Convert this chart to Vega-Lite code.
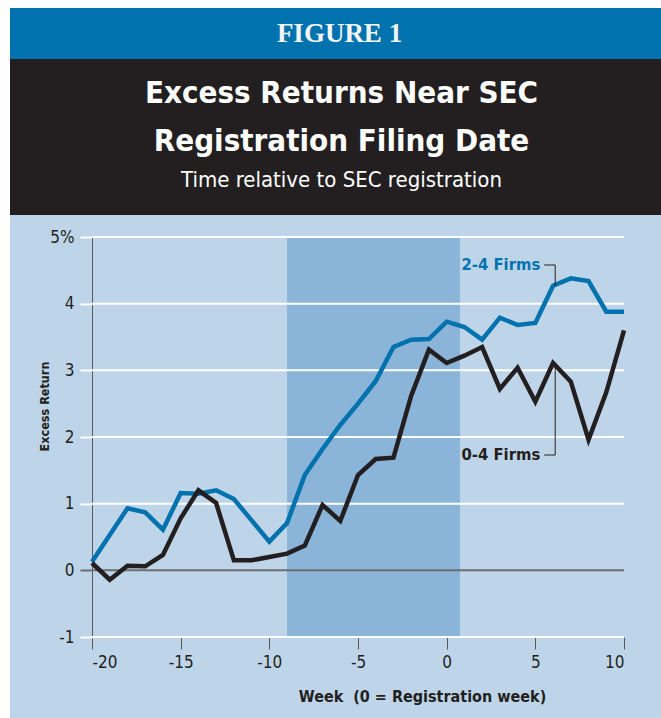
{
  "$schema": "https://vega.github.io/schema/vega-lite/v6.json",
  "background": "#bed5e9",
  "padding": 0,
  "spacing": 0,
  "config": {
    "view": {"stroke": null},
    "font": "'DejaVu Sans Condensed', sans-serif",
    "concat": {"spacing": 0}
  },
  "datasets": {
    "lines": [
      {"week": -20, "value": 0.13, "group": "2-4 Firms"},
      {"week": -19, "value": 0.53, "group": "2-4 Firms"},
      {"week": -18, "value": 0.93, "group": "2-4 Firms"},
      {"week": -17, "value": 0.87, "group": "2-4 Firms"},
      {"week": -16, "value": 0.61, "group": "2-4 Firms"},
      {"week": -15, "value": 1.16, "group": "2-4 Firms"},
      {"week": -14, "value": 1.15, "group": "2-4 Firms"},
      {"week": -13, "value": 1.2, "group": "2-4 Firms"},
      {"week": -12, "value": 1.07, "group": "2-4 Firms"},
      {"week": -11, "value": 0.75, "group": "2-4 Firms"},
      {"week": -10, "value": 0.43, "group": "2-4 Firms"},
      {"week": -9, "value": 0.71, "group": "2-4 Firms"},
      {"week": -8, "value": 1.43, "group": "2-4 Firms"},
      {"week": -7, "value": 1.82, "group": "2-4 Firms"},
      {"week": -6, "value": 2.18, "group": "2-4 Firms"},
      {"week": -5, "value": 2.5, "group": "2-4 Firms"},
      {"week": -4, "value": 2.84, "group": "2-4 Firms"},
      {"week": -3, "value": 3.35, "group": "2-4 Firms"},
      {"week": -2, "value": 3.46, "group": "2-4 Firms"},
      {"week": -1, "value": 3.47, "group": "2-4 Firms"},
      {"week": 0, "value": 3.73, "group": "2-4 Firms"},
      {"week": 1, "value": 3.65, "group": "2-4 Firms"},
      {"week": 2, "value": 3.46, "group": "2-4 Firms"},
      {"week": 3, "value": 3.79, "group": "2-4 Firms"},
      {"week": 4, "value": 3.68, "group": "2-4 Firms"},
      {"week": 5, "value": 3.71, "group": "2-4 Firms"},
      {"week": 6, "value": 4.27, "group": "2-4 Firms"},
      {"week": 7, "value": 4.38, "group": "2-4 Firms"},
      {"week": 8, "value": 4.34, "group": "2-4 Firms"},
      {"week": 9, "value": 3.88, "group": "2-4 Firms"},
      {"week": 10, "value": 3.88, "group": "2-4 Firms"},
      {"week": -20, "value": 0.11, "group": "0-4 Firms"},
      {"week": -19, "value": -0.14, "group": "0-4 Firms"},
      {"week": -18, "value": 0.07, "group": "0-4 Firms"},
      {"week": -17, "value": 0.06, "group": "0-4 Firms"},
      {"week": -16, "value": 0.23, "group": "0-4 Firms"},
      {"week": -15, "value": 0.78, "group": "0-4 Firms"},
      {"week": -14, "value": 1.2, "group": "0-4 Firms"},
      {"week": -13, "value": 1.01, "group": "0-4 Firms"},
      {"week": -12, "value": 0.15, "group": "0-4 Firms"},
      {"week": -11, "value": 0.15, "group": "0-4 Firms"},
      {"week": -10, "value": 0.2, "group": "0-4 Firms"},
      {"week": -9, "value": 0.25, "group": "0-4 Firms"},
      {"week": -8, "value": 0.37, "group": "0-4 Firms"},
      {"week": -7, "value": 0.98, "group": "0-4 Firms"},
      {"week": -6, "value": 0.74, "group": "0-4 Firms"},
      {"week": -5, "value": 1.43, "group": "0-4 Firms"},
      {"week": -4, "value": 1.67, "group": "0-4 Firms"},
      {"week": -3, "value": 1.69, "group": "0-4 Firms"},
      {"week": -2, "value": 2.62, "group": "0-4 Firms"},
      {"week": -1, "value": 3.31, "group": "0-4 Firms"},
      {"week": 0, "value": 3.11, "group": "0-4 Firms"},
      {"week": 1, "value": 3.22, "group": "0-4 Firms"},
      {"week": 2, "value": 3.35, "group": "0-4 Firms"},
      {"week": 3, "value": 2.72, "group": "0-4 Firms"},
      {"week": 4, "value": 3.04, "group": "0-4 Firms"},
      {"week": 5, "value": 2.53, "group": "0-4 Firms"},
      {"week": 6, "value": 3.11, "group": "0-4 Firms"},
      {"week": 7, "value": 2.83, "group": "0-4 Firms"},
      {"week": 8, "value": 1.96, "group": "0-4 Firms"},
      {"week": 9, "value": 2.67, "group": "0-4 Firms"},
      {"week": 10, "value": 3.6, "group": "0-4 Firms"}
    ],
    "shade": [{"week": -9, "week2": 0.75, "value": -1, "value2": 5}],
    "grid": [{"value": -1}, {"value": 1}, {"value": 2}, {"value": 3}, {"value": 4}, {"value": 5}, {"value": 0}],
    "leaders": [
      {"week": 5.5, "week2": 6.12, "value": 4.58, "value2": 4.58},
      {"week": 6.12, "week2": 6.12, "value": 4.58, "value2": 4.27},
      {"week": 5.5, "week2": 6.12, "value": 1.73, "value2": 1.73},
      {"week": 6.12, "week2": 6.12, "value": 1.73, "value2": 3.11}
    ],
    "labels": [
      {"week": 5.28, "value": 4.58, "group": "2-4 Firms"},
      {"week": 5.28, "value": 1.73, "group": "0-4 Firms"}
    ],
    "header": [{"t": "FIGURE 1"}],
    "titles": [
      {"row": 1, "t": "Excess Returns Near SEC"},
      {"row": 2, "t": "Registration Filing Date"}
    ],
    "subtitle": [{"row": 2.75, "t": "Time relative to SEC registration"}],
    "blank": [{"k": 1}]
  },
  "hconcat": [
    {
      "width": 10,
      "height": 718,
      "view": {"fill": "white", "stroke": null},
      "data": {"name": "blank"},
      "mark": {"type": "point", "opacity": 0}
    },
    {
      "spacing": 13,
      "vconcat": [
        {
          "spacing": 0,
          "vconcat": [
            {
              "width": 651,
              "height": 8,
              "view": {"fill": "white", "stroke": null},
              "data": {"name": "blank"},
              "mark": {"type": "point", "opacity": 0, "size": 4}
            },
            {
              "width": 651,
              "height": 51,
              "view": {"fill": "#0072ae", "stroke": null},
              "data": {"name": "header"},
              "mark": {"type": "text", "font": "Liberation Serif", "fontSize": 27, "fontWeight": "bold", "color": "#f4f4f4", "dx": 4, "dy": 0},
              "encoding": {"text": {"field": "t"}}
            },
            {
              "width": 651,
              "height": 156,
              "view": {"fill": "#231f20", "stroke": null},
              "layer": [
                {
                  "data": {"name": "titles"},
                  "mark": {"type": "text", "fontWeight": "bold", "fontSize": 31, "color": "white", "baseline": "alphabetic", "dx": 6},
                  "encoding": {
                    "y": {"field": "row", "type": "quantitative", "scale": {"domain": [0.09, 3.34], "reverse": true, "nice": false, "zero": false}, "axis": null},
                    "text": {"field": "t"}
                  }
                },
                {
                  "data": {"name": "subtitle"},
                  "mark": {"type": "text", "fontSize": 22, "color": "white", "baseline": "alphabetic", "dx": 6},
                  "encoding": {
                    "y": {"field": "row", "type": "quantitative", "axis": null},
                    "text": {"field": "t"}
                  }
                }
              ]
            }
          ]
        },
        {
          "spacing": 0,
          "hconcat": [
            {
              "width": 28,
              "height": 10,
              "data": {"name": "blank"},
              "mark": {"type": "point", "opacity": 0, "size": 4}
            },
            {
              "width": 532,
              "height": 400,
              "layer": [
                {
                  "data": {"name": "shade"},
                  "mark": {"type": "rect", "color": "#8ab4d8"},
                  "encoding": {
                    "x": {
                      "field": "week",
                      "type": "quantitative",
                      "scale": {"domain": [-20, 10], "nice": false, "zero": false},
                      "axis": {
                        "values": [-20, -15, -10, -5, 0, 5, 10],
                        "labelExpr": "'' + datum.value",
                        "domain": false,
                        "grid": false,
                        "tickColor": "#58595b",
                        "tickSize": 12,
                        "tickWidth": 1,
                        "labelFontSize": 17,
                        "labelColor": "#231f20",
                        "labelPadding": 5,
                        "title": "Week\u00a0 (0 = Registration week)",
                        "titleFontSize": 16,
                        "titleFontWeight": "bold",
                        "titleColor": "#231f20",
                        "titleX": 330,
                        "titleY": 64,
                        "titleAlign": "center",
                        "titleBaseline": "alphabetic"
                      }
                    },
                    "x2": {"field": "week2"},
                    "y": {
                      "field": "value",
                      "type": "quantitative",
                      "scale": {"domain": [-1, 5], "nice": false, "zero": false},
                      "axis": {
                        "values": [-1, 0, 1, 2, 3, 4, 5],
                        "labelExpr": "datum.value === 5 ? '5%' : '' + datum.value",
                        "grid": false,
                        "domainColor": "#58595b",
                        "domainWidth": 1,
                        "tickColor": {"condition": {"test": "datum.value === 0", "value": "#6d6e71"}, "value": "white"},
                        "tickSize": 12,
                        "tickWidth": 2,
                        "labelFontSize": 17,
                        "labelColor": "#231f20",
                        "labelPadding": 6,
                        "title": "Excess Return",
                        "titleFontSize": 12.5,
                        "titleFontWeight": "bold",
                        "titleColor": "#231f20",
                        "titleAngle": 270,
                        "titleX": -48,
                        "titleY": 169,
                        "titleAlign": "center",
                        "titleBaseline": "middle"
                      }
                    },
                    "y2": {"field": "value2"}
                  }
                },
                {
                  "data": {"name": "grid"},
                  "mark": {"type": "rule", "strokeWidth": 2},
                  "encoding": {
                    "y": {"field": "value", "type": "quantitative"},
                    "color": {"condition": {"test": "datum.value === 0", "value": "#6d6e71"}, "value": "white"}
                  }
                },
                {
                  "data": {"name": "lines"},
                  "transform": [{"filter": "datum.group === '2-4 Firms'"}],
                  "mark": {"type": "line", "color": "#0072ae", "strokeWidth": 4.5, "strokeJoin": "miter"},
                  "encoding": {
                    "x": {"field": "week", "type": "quantitative"},
                    "y": {"field": "value", "type": "quantitative"}
                  }
                },
                {
                  "data": {"name": "lines"},
                  "transform": [{"filter": "datum.group === '0-4 Firms'"}],
                  "mark": {"type": "line", "color": "#231f20", "strokeWidth": 4.5, "strokeJoin": "miter"},
                  "encoding": {
                    "x": {"field": "week", "type": "quantitative"},
                    "y": {"field": "value", "type": "quantitative"}
                  }
                },
                {
                  "data": {"name": "leaders"},
                  "mark": {"type": "rule", "color": "#231f20", "strokeWidth": 1},
                  "encoding": {
                    "x": {"field": "week", "type": "quantitative"},
                    "x2": {"field": "week2"},
                    "y": {"field": "value", "type": "quantitative"},
                    "y2": {"field": "value2"}
                  }
                },
                {
                  "data": {"name": "labels"},
                  "mark": {"type": "text", "fontWeight": "bold", "fontSize": 16.5, "align": "right", "baseline": "middle"},
                  "encoding": {
                    "x": {"field": "week", "type": "quantitative"},
                    "y": {"field": "value", "type": "quantitative"},
                    "text": {"field": "group"},
                    "color": {"field": "group", "type": "nominal", "scale": {"domain": ["2-4 Firms", "0-4 Firms"], "range": ["#0072ae", "#231f20"]}, "legend": null}
                  }
                }
              ]
            }
          ]
        }
      ]
    }
  ]
}
